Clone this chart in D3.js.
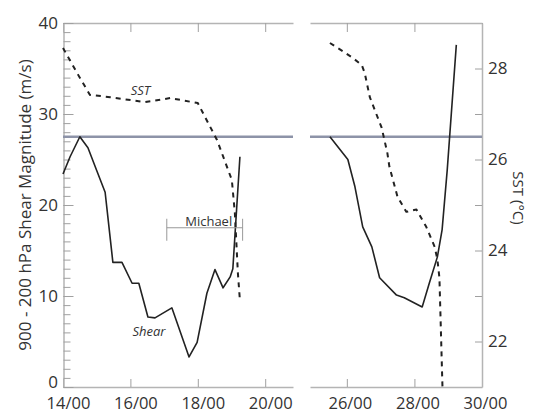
<!DOCTYPE html>
<html>
<head>
<meta charset="utf-8">
<script src="https://cdn.jsdelivr.net/npm/d3@7"></script>
<style>
  body { margin: 0; background: #fff; }
  text { font-family: "Open Sans", sans-serif; fill: #333; }
</style>
</head>
<body>
<div id="chart"></div>
<script>
// data (day of month, decimal)
var shearDaysA = [14.0, 14.21, 14.5, 14.74, 15.0, 15.25, 15.34, 15.48, 15.75, 16.05, 16.25, 16.52, 16.73, 17.23, 17.74, 17.98, 18.27, 18.51, 18.75, 18.96, 19.04, 19.25];
var shearValsA = [23.4, 25.3, 27.5, 26.3, 23.8, 21.4, 18.4, 13.7, 13.7, 11.4, 11.4, 7.7, 7.6, 8.7, 3.3, 4.9, 10.3, 12.9, 10.9, 12.1, 13.0, 25.3];
var sstDaysA = [14.0, 14.45, 14.8, 15.4, 16.43, 17.18, 18.0, 18.57, 19.01, 19.1, 19.19, 19.25];
var sstValsA = [28.45, 27.86, 27.42, 27.37, 27.26, 27.35, 27.24, 26.43, 25.55, 24.82, 23.5, 22.9];

var shearDaysB = [25.5, 26.03, 26.24, 26.47, 26.74, 26.97, 27.47, 27.7, 28.23, 28.44, 28.68, 28.82, 28.97, 29.24];
var shearValsB = [27.5, 25.0, 22.0, 17.6, 15.4, 12.0, 10.1, 9.8, 8.8, 11.4, 14.3, 17.3, 23.8, 37.6];
var sstDaysB = [25.5, 25.88, 26.18, 26.44, 26.53, 26.68, 27.03, 27.2, 27.26, 27.5, 27.76, 28.06, 28.35, 28.6, 28.68, 28.74, 28.83];
var sstValsB = [28.56, 28.38, 28.23, 28.08, 27.9, 27.37, 26.7, 26.14, 25.84, 25.18, 24.85, 24.9, 24.52, 24.08, 23.8, 23.4, 21.0];

var dayTicksA = [14, 16, 18, 20];
var dayTicksB = [26, 28, 30];
var shearLabels = [0, 10, 20, 30, 40];
var sstLabels = [22, 24, 26, 28];
var threshold = 27.5;           // horizontal reference line (m/s)
var michaelSpan = [17.08, 19.33]; // bracket
var michaelLevel = 17.5;

var W = 534, H = 415;
var plotTop = 23, plotBottom = 387;

var svg = d3.select("#chart").append("svg")
    .attr("width", W).attr("height", H);

var xA = d3.scaleLinear().domain([14, 20.825]).range([63, 293]);
var xB = d3.scaleLinear().domain([24.91, 30]).range([310, 482]);
var yShear = d3.scaleLinear().domain([0, 40]).range([plotBottom, plotTop]);
var ySST = d3.scaleLinear().domain([21, 29]).range([plotBottom, plotTop]);

var axisColor = "#b4b4b4";

function fmtDay(d) { return d + "/00"; }

function styleAxis(g) {
    g.select(".domain").attr("stroke", axisColor).attr("stroke-width", 1.5);
    g.selectAll(".tick line").attr("stroke", "#a0a0a0").attr("stroke-width", 1);
    g.selectAll(".tick text").style("font-size", "17px").attr("fill", "#333");
}

// bottom + top axes for both panels
[[xA, dayTicksA, 5], [xB, dayTicksB, 3]].forEach(function(p) {
    var gb = svg.append("g").attr("transform", "translate(0," + plotBottom + ")")
        .call(d3.axisBottom(p[0]).tickValues(p[1]).tickSizeInner(-8).tickSizeOuter(0).tickPadding(10).tickFormat(fmtDay));
    styleAxis(gb);
    gb.selectAll(".tick text").attr("dx", p[2]).style("font-size", "16.5px");
    var gt = svg.append("g").attr("transform", "translate(0," + plotTop + ")")
        .call(d3.axisTop(p[0]).tickValues(p[1]).tickSizeInner(-9).tickSizeOuter(0).tickFormat(""));
    styleAxis(gt);
});

// left shear axis: minor ticks every 1, labels every 10
var gMinor = svg.append("g").attr("transform", "translate(63.5,0)")
    .call(d3.axisLeft(yShear).tickValues(d3.range(0, 41)).tickSizeInner(-7).tickSizeOuter(0).tickFormat(""));
styleAxis(gMinor);
var gLeft = svg.append("g").attr("transform", "translate(63.5,0)")
    .call(d3.axisLeft(yShear).tickValues(shearLabels).tickSizeInner(-10).tickSizeOuter(0).tickPadding(5));
styleAxis(gLeft);
gLeft.select(".domain").remove();
gLeft.selectAll(".tick text").attr("x", -5.5)
    .attr("dy", function(d) { return d === 0 ? "0em" : "0.32em"; });

// right SST axis
var gRight = svg.append("g").attr("transform", "translate(482,0)")
    .call(d3.axisRight(ySST).tickValues(d3.range(22, 29)).tickSizeInner(-7).tickSizeOuter(0)
        .tickFormat(function(d) { return sstLabels.indexOf(d) >= 0 ? d : ""; }));
styleAxis(gRight);
gRight.selectAll(".tick text").attr("x", 6);

// axis titles
svg.append("text")
    .attr("transform", "translate(25," + (plotTop + plotBottom) / 2 + ") rotate(-90)")
    .attr("text-anchor", "middle").attr("dy", "0.35em")
    .style("font-size", "17px")
    .text("900 - 200 hPa Shear Magnitude (m/s)");
svg.append("text")
    .attr("transform", "translate(518,198) rotate(90)")
    .attr("text-anchor", "middle").attr("dy", "0.35em")
    .style("font-size", "15px")
    .text("SST (\u00B0C)");

// threshold line in both panels
[xA, xB].forEach(function(x) {
    svg.append("line")
        .attr("x1", x.range()[0]).attr("x2", x.range()[1])
        .attr("y1", yShear(threshold)).attr("y2", yShear(threshold))
        .attr("stroke", "#8d93a8").attr("stroke-width", 2.5);
});

function zipPts(days, vals) {
    return days.map(function(d, i) { return [d, vals[i]]; });
}

svg.append("clipPath").attr("id", "plotclip").append("rect")
    .attr("x", 0).attr("y", plotTop).attr("width", W).attr("height", plotBottom - plotTop);

function drawSeries(x, days, vals, y, dashed) {
    var line = d3.line().x(function(d) { return x(d[0]); }).y(function(d) { return y(d[1]); });
    svg.append("path")
        .datum(zipPts(days, vals))
        .attr("d", line)
        .attr("clip-path", "url(#plotclip)")
        .attr("fill", "none")
        .attr("stroke", "#222")
        .attr("stroke-width", dashed ? 2 : 1.6)
        .attr("stroke-dasharray", dashed ? "5,5" : null)
        .attr("stroke-linejoin", "round");
}

drawSeries(xA, sstDaysA, sstValsA, ySST, true);
drawSeries(xB, sstDaysB, sstValsB, ySST, true);
drawSeries(xA, shearDaysA, shearValsA, yShear, false);
drawSeries(xB, shearDaysB, shearValsB, yShear, false);

// Michael bracket
var my = yShear(michaelLevel);
var mg = svg.append("g").attr("stroke", "#999").attr("stroke-width", 1);
mg.append("line").attr("x1", xA(michaelSpan[0])).attr("x2", xA(michaelSpan[1])).attr("y1", my).attr("y2", my);
michaelSpan.forEach(function(d) {
    mg.append("line").attr("x1", xA(d)).attr("x2", xA(d)).attr("y1", my - 9).attr("y2", my + 13);
});
svg.append("text")
    .attr("x", (xA(michaelSpan[0]) + xA(michaelSpan[1])) / 2 + 4).attr("y", my - 2)
    .attr("text-anchor", "middle").style("font-size", "13px").attr("fill", "#444")
    .text("Michael");

// series labels
svg.append("text").attr("x", xA(16.3)).attr("y", ySST(27.42))
    .attr("text-anchor", "middle").style("font-size", "13px").style("font-style", "italic").attr("fill", "#444")
    .text("SST");
svg.append("text").attr("x", xA(16.55)).attr("y", yShear(5.6))
    .attr("text-anchor", "middle").style("font-size", "13px").style("font-style", "italic").attr("fill", "#444")
    .text("Shear");
</script>
</body>
</html>
